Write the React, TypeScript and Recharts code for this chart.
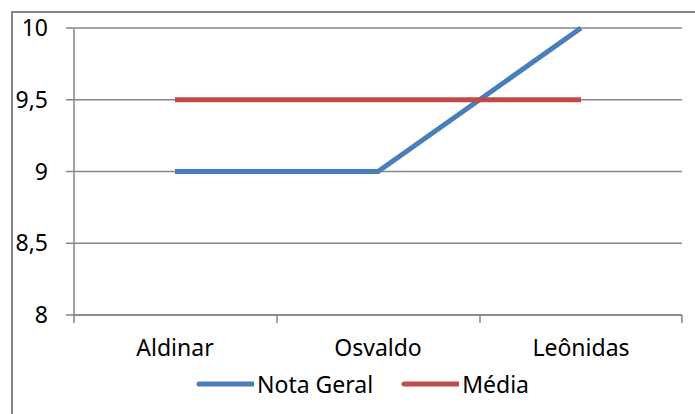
import { LineChart, Line, XAxis, YAxis, CartesianGrid, Legend } from "recharts";

const nomes = ["Aldinar", "Osvaldo", "Leônidas"];
const notaGeral = [9, 9, 10];
const media = [9.5, 9.5, 9.5];
const yTicks = [8, 8.5, 9, 9.5, 10];
const legendOrder = ["Nota Geral", "Média"];

const data = nomes.map((nome, i) => ({
  nome,
  nota: notaGeral[i],
  media: media[i],
}));

const FONT = "'Noto Sans', sans-serif";
const GRAY = "#868686";
const PAD = 101;
const FS = 23;

const CategoryTick = (props: any) => {
  const { x, y, payload, index } = props;
  return (
    <g>
      <line x1={x - PAD} y1={y - 10} x2={x - PAD} y2={y - 2} stroke={GRAY} strokeWidth={1.5} />
      {index === nomes.length - 1 && (
        <line x1={x + PAD} y1={y - 10} x2={x + PAD} y2={y - 2} stroke={GRAY} strokeWidth={1.5} />
      )}
      <text x={x} y={y + 31} textAnchor="middle" fill="#000" fontSize={FS} fontFamily={FONT}>
        {payload.value}
      </text>
    </g>
  );
};

const LegendContent = (props: any) => {
  const items = [...props.payload].sort(
    (a: any, b: any) => legendOrder.indexOf(a.value) - legendOrder.indexOf(b.value)
  );
  return (
    <div style={{ display: "flex", height: 24, alignItems: "center", fontFamily: FONT, fontSize: FS, paddingLeft: 196 }}>
      {items.map((entry: any) => (
        <div key={entry.value} style={{ display: "flex", alignItems: "center", marginRight: 28 }}>
          <svg width={58} height={8}>
            <line x1={3} y1={4} x2={57} y2={4} stroke={entry.color} strokeWidth={5} strokeLinecap="round" />
          </svg>
          <span style={{ marginLeft: 3, lineHeight: "24px" }}>{entry.value}</span>
        </div>
      ))}
    </div>
  );
};

const App = () => {
  return (
    <div style={{ position: "absolute", left: 0, top: 0, width: 695, height: 414, overflow: "hidden", background: "#fff" }}>
      <div
        style={{
          position: "absolute",
          left: 11,
          top: 11,
          width: 720,
          height: 440,
          border: `2px solid ${GRAY}`,
          boxSizing: "border-box",
        }}
      />
      <div style={{ position: "absolute", left: 0, top: 0 }}>
        <LineChart width={695} height={414} data={data} margin={{ top: 28, right: 13, bottom: 45, left: 0 }}>
          <CartesianGrid vertical={false} stroke={GRAY} strokeWidth={1.5} />
          <XAxis
            dataKey="nome"
            padding={{ left: PAD, right: PAD }}
            axisLine={{ stroke: GRAY, strokeWidth: 1.5 }}
            tickLine={false}
            tick={<CategoryTick />}
            tickSize={8}
            interval={0}
          />
          <YAxis
            domain={[8, 10]}
            ticks={yTicks}
            width={74}
            tickSize={8}
            tickMargin={18}
            axisLine={{ stroke: GRAY, strokeWidth: 1.5 }}
            tickLine={{ stroke: GRAY, strokeWidth: 1.5 }}
            tick={{ fill: "#000", fontSize: FS, fontFamily: FONT }}
            tickFormatter={(v: number) => String(v).replace(".", ",")}
          />
          <Legend
            verticalAlign="bottom"
            content={<LegendContent />}
            wrapperStyle={{ top: 372, bottom: "auto", left: 0, width: 695 }}
          />
          <Line
            type="linear"
            dataKey="nota"
            name="Nota Geral"
            stroke="#4a7ebb"
            strokeWidth={5}
            dot={false}
            isAnimationActive={false}
          />
          <Line
            type="linear"
            dataKey="media"
            name="Média"
            stroke="#be4b48"
            strokeWidth={5}
            dot={false}
            isAnimationActive={false}
          />
        </LineChart>
      </div>
    </div>
  );
};

export default App;
